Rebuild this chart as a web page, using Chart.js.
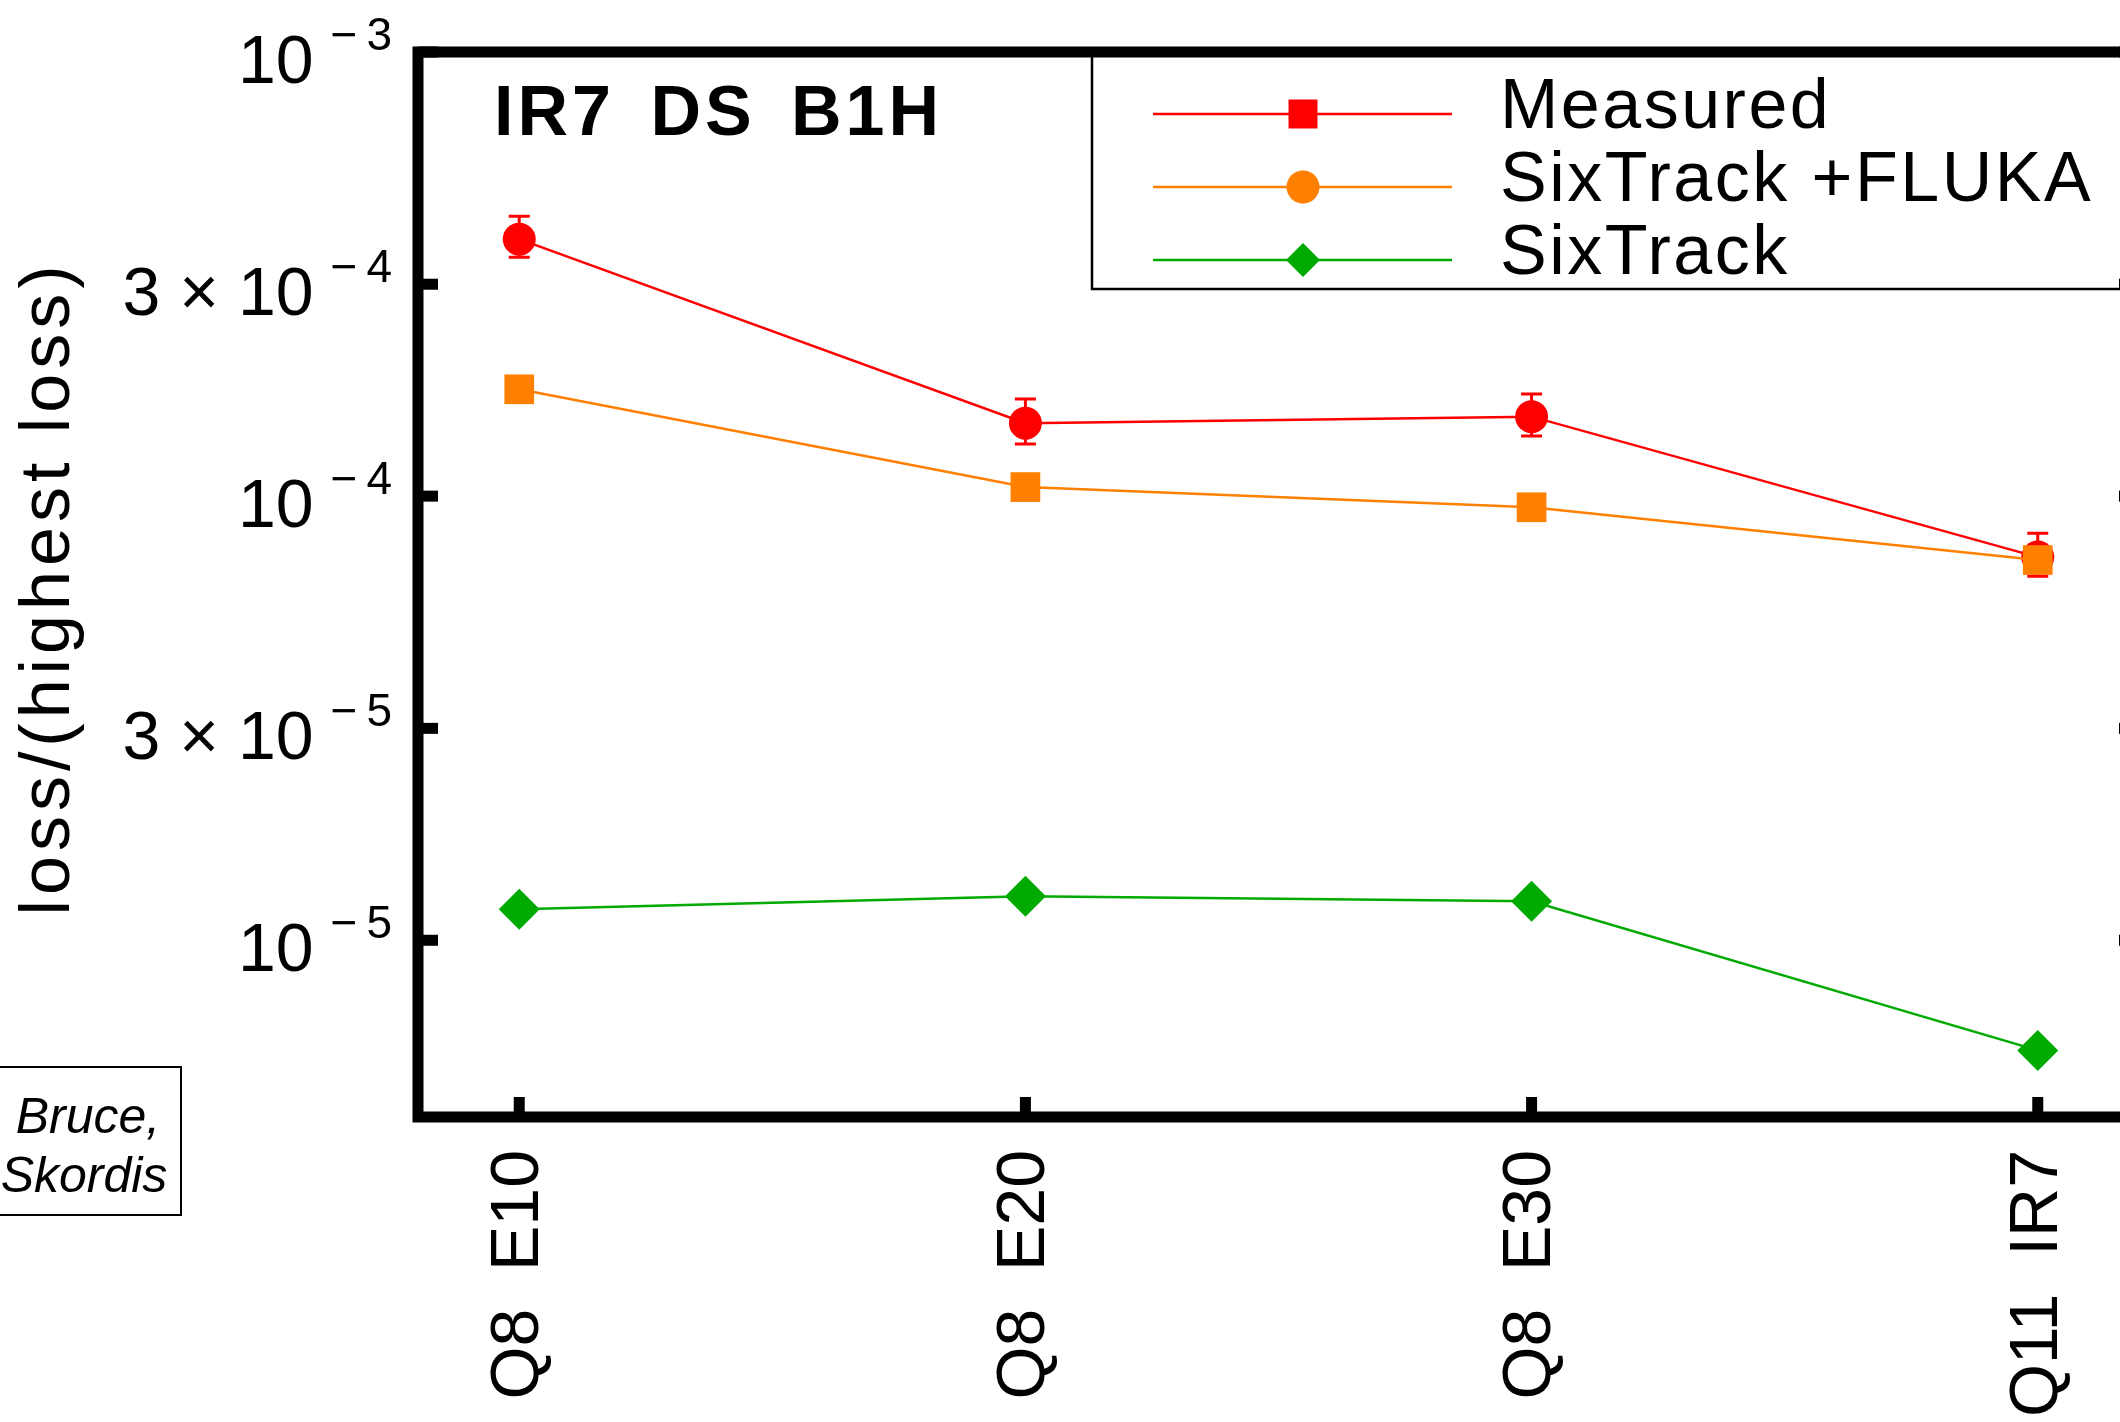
<!DOCTYPE html>
<html lang="en">
<head>
<meta charset="UTF-8">
<title>IR7 DS B1H - loss map</title>
<script src="https://cdn.jsdelivr.net/npm/chart.js"></script>
<style>
  html, body { margin: 0; padding: 0; background: #fff; overflow: hidden; }
  .wrap { width: 2120px; height: 1422px; overflow: hidden; }
  canvas { display: block; }
</style>
</head>
<body>
<div class="wrap"><canvas id="lossChart" width="2160" height="1422"></canvas></div>
<script>
// data
const categories = ['Q8  E10', 'Q8  E20', 'Q8  E30', 'Q11  IR7'];
const measured = [3.79e-4, 1.46e-4, 1.51e-4, 7.29e-5];
const measuredLow = [3.45e-4, 1.31e-4, 1.365e-4, 6.6e-5];
const measuredHigh = [4.27e-4, 1.654e-4, 1.697e-4, 8.25e-5];
const sixtrackFluka = [1.74e-4, 1.048e-4, 9.44e-5, 7.18e-5];
const sixtrack = [1.175e-5, 1.256e-5, 1.224e-5, 5.65e-6];
const yTicks = [1e-5, 3e-5, 1e-4, 3e-4, 1e-3];
const yMin = 4e-6;
const yMax = 1e-3;

const FONT = '"Liberation Sans", Arial, Helvetica, sans-serif';
const toPoints = arr => arr.map((v, i) => ({ x: i, y: v }));

// frame, inward ticks, superscript labels, legend box, error bars
const framePlugin = {
    id: 'frame',
    beforeDatasetsDraw(chart) {
        const { ctx, scales: { x, y } } = chart;
        ctx.save();
        ctx.strokeStyle = '#ff0000';
        ctx.lineWidth = 3;
        measured.forEach((v, i) => {
            const px = x.getPixelForValue(i);
            const lo = y.getPixelForValue(measuredLow[i]);
            const hi = y.getPixelForValue(measuredHigh[i]);
            ctx.beginPath();
            ctx.moveTo(px, lo); ctx.lineTo(px, hi);
            ctx.moveTo(px - 10.5, lo); ctx.lineTo(px + 10.5, lo);
            ctx.moveTo(px - 10.5, hi); ctx.lineTo(px + 10.5, hi);
            ctx.stroke();
        });
        ctx.restore();
    },
    afterDraw(chart) {
        const { ctx, chartArea: a, scales: { x, y } } = chart;
        ctx.save();
        ctx.fillStyle = '#000';
        ctx.strokeStyle = '#000';

        // axis frame
        ctx.lineWidth = 11;
        ctx.strokeRect(a.left, a.top, a.right - a.left, a.bottom - a.top);

        // ticks pointing inward
        x.ticks.forEach(t => {
            const px = x.getPixelForValue(t.value);
            ctx.fillRect(px - 5.5, a.bottom - 20, 11, 20);
        });
        y.ticks.forEach(t => {
            const py = y.getPixelForValue(t.value);
            ctx.fillRect(a.left, py - 5.5, 20, 11);
            ctx.fillRect(a.right - 20, py - 5.5, 20, 11);
        });

        // y tick labels with superscript exponent
        y.ticks.forEach(t => {
            const py = y.getPixelForValue(t.value);
            const exp = Math.floor(Math.log10(t.value) + 1e-9);
            const mant = Math.round(t.value / Math.pow(10, exp));
            ctx.textAlign = 'right';
            ctx.textBaseline = 'alphabetic';
            ctx.font = '46px ' + FONT;
            ctx.letterSpacing = '9px';
            const expStr = '\u2212' + Math.abs(exp);
            ctx.fillText(expStr, 401, py - 2);
            const expW = ctx.measureText(expStr).width;
            ctx.letterSpacing = '0px';
            ctx.font = '68px ' + FONT;
            ctx.fillText((mant === 1 ? '' : mant + ' \u00d7 ') + '10', 392 - expW - 8, py + 31);
        });

        // y axis title
        ctx.save();
        ctx.translate(69, 588);
        ctx.rotate(-Math.PI / 2);
        ctx.textAlign = 'center';
        ctx.font = '70px ' + FONT;
        ctx.letterSpacing = '5px';
        ctx.fillText('loss/(highest loss)', 0, 0);
        ctx.restore();

        // plot title
        ctx.textAlign = 'left';
        ctx.font = 'bold 70px ' + FONT;
        ctx.letterSpacing = '4px';
        ctx.wordSpacing = '12px';
        ctx.fillText('IR7 DS B1H', 494, 135);
        ctx.wordSpacing = '0px';

        // legend
        ctx.lineWidth = 2.5;
        ctx.strokeRect(1092, a.top, 1200, 289 - a.top);
        const legendStyles = [['rect', 20.5], ['circle', 16.5], ['rectRot', 17]];
        chart.data.datasets.forEach((ds, i) => {
            const ly = 114 + 73 * i;
            ctx.strokeStyle = ds.borderColor;
            ctx.lineWidth = 2.5;
            ctx.beginPath();
            ctx.moveTo(1153, ly); ctx.lineTo(1452, ly);
            ctx.stroke();
            ctx.fillStyle = ds.backgroundColor;
            Chart.helpers.drawPoint(ctx, { pointStyle: legendStyles[i][0], radius: legendStyles[i][1], rotation: 0, borderWidth: 0 }, 1303, ly);
            ctx.fillStyle = '#000';
            ctx.font = '70px ' + FONT;
            ctx.letterSpacing = '2.5px';
            ctx.fillText(ds.label, 1500, ly + 14);
        });

        // credit box
        ctx.letterSpacing = '0px';
        ctx.strokeStyle = '#000';
        ctx.lineWidth = 2;
        ctx.strokeRect(-5, 1067, 186, 148);
        ctx.textAlign = 'center';
        ctx.font = 'italic 50px ' + FONT;
        ctx.fillText('Bruce,', 88, 1133);
        ctx.fillText('Skordis', 84, 1192);
        ctx.restore();
    }
};

const ctx = document.getElementById('lossChart').getContext('2d');
const lossChart = new Chart(ctx, {
    type: 'line',
    data: {
        datasets: [
            {
                label: 'Measured',
                data: toPoints(measured),
                borderColor: '#ff0000',
                backgroundColor: '#ff0000',
                pointStyle: 'circle',
                pointRadius: 16.5,
                pointBorderWidth: 0,
                borderWidth: 2.5,
                order: 1
            },
            {
                label: 'SixTrack +FLUKA',
                data: toPoints(sixtrackFluka),
                borderColor: '#ff8000',
                backgroundColor: '#ff8000',
                pointStyle: 'rect',
                pointRadius: 21,
                pointBorderWidth: 0,
                borderWidth: 2.5,
                order: 0
            },
            {
                label: 'SixTrack',
                data: toPoints(sixtrack),
                borderColor: '#00aa00',
                backgroundColor: '#00aa00',
                pointStyle: 'rectRot',
                pointRadius: 20.5,
                pointBorderWidth: 0,
                borderWidth: 2.5,
                order: 2
            }
        ]
    },
    options: {
        responsive: false,
        animation: false,
        devicePixelRatio: 1,
        layout: { padding: { top: 52, right: 19, left: 0, bottom: 0 } },
        plugins: {
            legend: { display: false },
            tooltip: { enabled: false }
        },
        scales: {
            x: {
                type: 'linear',
                min: -0.2,
                max: 3.2,
                grid: { display: false },
                border: { display: false },
                afterBuildTicks: s => { s.ticks = categories.map((c, i) => ({ value: i })); },
                afterFit: s => { s.height = 305; },
                ticks: {
                    autoSkip: false,
                    minRotation: 90,
                    maxRotation: 90,
                    padding: 25,
                    color: '#000',
                    font: { family: FONT, size: 68 },
                    callback: v => categories[v]
                }
            },
            y: {
                type: 'logarithmic',
                min: yMin,
                max: yMax,
                grid: { display: false },
                border: { display: false },
                ticks: { display: false },
                afterBuildTicks: s => { s.ticks = yTicks.map(v => ({ value: v })); },
                afterFit: s => { s.width = 418; }
            }
        }
    },
    plugins: [framePlugin]
});
</script>
</body>
</html>
